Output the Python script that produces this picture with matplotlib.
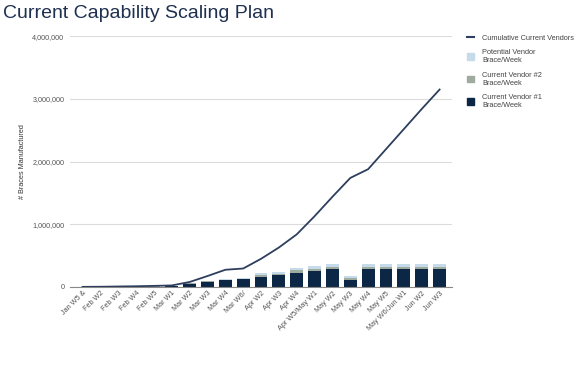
import numpy as np
import matplotlib.pyplot as plt
from matplotlib.patches import Patch
from matplotlib.lines import Line2D
from matplotlib.ticker import FuncFormatter

plt.rcParams['font.family'] = ['Liberation Sans', 'DejaVu Sans']

weeks = ['Jan W5 &', 'Feb W2', 'Feb W3', 'Feb W4', 'Feb W5', 'Mar W1', 'Mar W2',
         'Mar W3', 'Mar W4', 'Mar W6/', 'Apr W2', 'Apr W3', 'Apr W4',
         'Apr W5/May W1', 'May W2', 'May W3', 'May W4', 'May W5',
         'May W6/Jun W1', 'Jun W2', 'Jun W3']

vendor1 = [3000, 3000, 4000, 5000, 6000, 8000, 55000, 85000, 105000, 120000, 165000,
           185000, 230000, 260000, 285000, 110000, 285000, 285000, 285000, 285000, 285000]
vendor2 = [1000, 1000, 1000, 1000, 2000, 2000, 5000, 5000, 5000, 10000, 25000,
           25000, 40000, 35000, 30000, 30000, 30000, 30000, 30000, 30000, 30000]
potential = [2000, 2000, 2000, 3000, 4000, 4000, 5000, 5000, 10000, 15000, 30000,
             35000, 35000, 35000, 55000, 30000, 55000, 55000, 55000, 55000, 55000]
cumulative = [2000, 4000, 8000, 12000, 18000, 25000, 80000, 175000, 275000, 295000,
              450000, 630000, 840000, 1130000, 1440000, 1740000, 1880000, 2200000,
              2520000, 2840000, 3150000]

c_v1 = '#0b2745'
c_v2 = '#9eab9e'
c_pot = '#c5dbea'
c_line = '#2d3e5e'

fig = plt.figure(figsize=(5.86, 3.65), dpi=100)
ax = fig.add_axes([0.1195, 0.2137, 0.652, 0.687])

x = np.arange(len(weeks))
w = 0.72
ax.bar(x, vendor1, w, color=c_v1, zorder=2)
ax.bar(x, vendor2, w, bottom=vendor1, color=c_v2, zorder=2)
ax.bar(x, potential, w, bottom=np.array(vendor1) + np.array(vendor2), color=c_pot, zorder=2)
ax.plot(x, cumulative, color=c_line, lw=1.3, zorder=3)

ax.set_xlim(-0.7, len(weeks) - 0.3)
ax.set_ylim(0, 4000000)
ax.set_yticks([0, 1000000, 2000000, 3000000, 4000000])
ax.yaxis.set_major_formatter(FuncFormatter(lambda v, p: f'{int(v):,}'))
ax.grid(axis='y', color='#dcdcdc', lw=0.8, zorder=0)
for s in ['top', 'right', 'left']:
    ax.spines[s].set_visible(False)
ax.spines['bottom'].set_color('#888888')
ax.spines['bottom'].set_linewidth(0.8)
ax.tick_params(axis='y', length=0, labelsize=5.2, labelcolor='#555555', pad=4)
ax.tick_params(axis='x', length=0, labelsize=5.2, labelcolor='#555555', pad=2)
ax.set_xticks(x)
ax.set_xticklabels(weeks, rotation=45, ha='right', rotation_mode='anchor')
ax.set_ylabel('# Braces Manufactured', fontsize=5.2, color='#333333')
ax.yaxis.set_label_coords(-0.115, 0.5)

fig.text(0.005, 0.963, 'Current Capability Scaling Plan', fontsize=14,
         color='#1f3050', va='center', ha='left')

handles = [Line2D([0], [0], color=c_line, lw=1.5),
           Patch(color=c_pot), Patch(color=c_v2), Patch(color=c_v1)]
labels = ['Cumulative Current Vendors', 'Potential Vendor\nBrace/Week',
          'Current Vendor #2\nBrace/Week', 'Current Vendor #1\nBrace/Week']
fig.legend(handles, labels, loc='upper left', bbox_to_anchor=(0.785, 0.925),
           frameon=False, fontsize=5.3, handlelength=1.0, handleheight=1.0,
           labelspacing=1.0, handletextpad=1.1, labelcolor='#444444')

fig.savefig('out.png', dpi=100)
